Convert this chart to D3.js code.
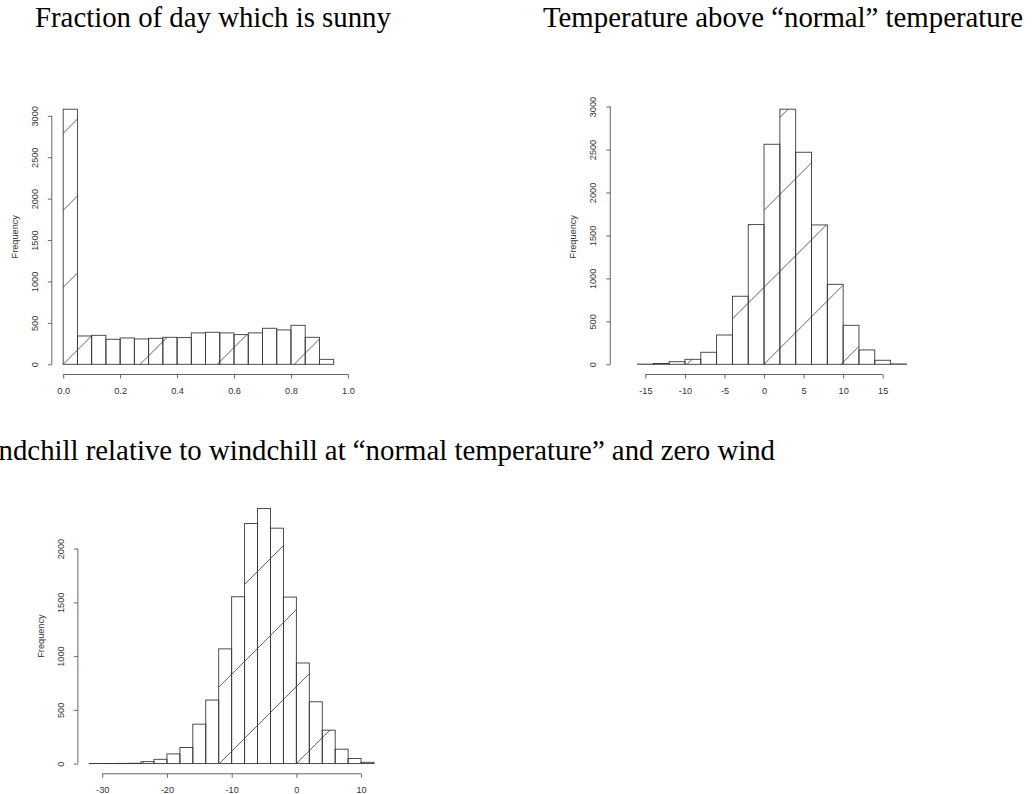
<!DOCTYPE html>
<html>
<head>
<meta charset="utf-8">
<script src="https://cdn.jsdelivr.net/npm/d3@7/dist/d3.min.js"></script>
<style>
  body { margin: 0; background: #fff; }
  svg text { fill: #333; }
</style>
</head>
<body>
<div id="chart"></div>
<script>
// bin edges and counts
const sunBreaks = [0, 0.05, 0.1, 0.15, 0.2, 0.25, 0.3, 0.35, 0.4, 0.45, 0.5,
  0.55, 0.6, 0.65, 0.7, 0.75, 0.8, 0.85, 0.9, 0.95, 1.0];
const sunCounts = [3080, 342, 350, 302, 318, 306, 314, 326, 322, 379, 387,
  379, 358, 379, 435, 415, 471, 326, 60, 0];
const sunXTicks = [0, 0.2, 0.4, 0.6, 0.8, 1.0];
const sunYTicks = [0, 500, 1000, 1500, 2000, 2500, 3000];

const tempBreaks = [-18, -16, -14, -12, -10, -8, -6, -4, -2, 0, 2, 4, 6, 8,
  10, 12, 14, 16, 18];
const tempCounts = [0, 2, 10, 30, 58, 140, 341, 792, 1626, 2561, 2969, 2468,
  1622, 931, 454, 167, 47, 4];
const tempXTicks = [-15, -10, -5, 0, 5, 10, 15];
const tempYTicks = [0, 500, 1000, 1500, 2000, 2500, 3000];

const chillBreaks = [-32, -30, -28, -26, -24, -22, -20, -18, -16, -14, -12,
  -10, -8, -6, -4, -2, 0, 2, 4, 6, 8, 10, 12];
const chillCounts = [1, 1, 2, 3, 18, 40, 90, 150, 367, 591, 1067, 1552, 2233,
  2373, 2190, 1549, 936, 575, 311, 134, 47, 12];
const chillXTicks = [-30, -20, -10, 0, 10];
const chillYTicks = [0, 500, 1000, 1500, 2000];

const titles = [
  "Fraction of day which is sunny",
  "Temperature above \u201cnormal\u201d temperature",
  "Windchill relative to windchill at \u201cnormal temperature\u201d and zero wind"
];

const W = 1033, H = 794;
const plotW = 307.5, plotH = 275.5;
const hatchGap = 77; // horizontal distance between hatch lines, px
const ink = "#3a3a3a";

const svg = d3.select("#chart").append("svg")
  .attr("width", W)
  .attr("height", H);

// titles (figure captions above each panel)
function title(txt, x, y, anchor) {
  svg.append("text")
    .attr("x", x).attr("y", y)
    .attr("text-anchor", anchor)
    .attr("font-family", "Liberation Serif")
    .attr("font-size", 28.8)
    .style("fill", "#000")
    .text(txt);
}
title(titles[0], 35, 27, "start");
title(titles[1], 543, 27, "start");
title(titles[2], 775, 460, "end");

function extend(lo, hi) {
  // R's default 4% padding on each side
  const d = (hi - lo) * 0.04;
  return [lo - d, hi + d];
}

function histogram(left, top, breaks, counts, xTicks, yTicks, fmt) {
  const g = svg.append("g");
  const x = d3.scaleLinear()
    .domain(extend(breaks[0], breaks[breaks.length - 1]))
    .range([left, left + plotW]);
  const y = d3.scaleLinear()
    .domain(extend(0, d3.max(counts)))
    .range([top + plotH, top]);

  const bins = counts.map((c, i) => ({ lo: breaks[i], hi: breaks[i + 1], n: c }));

  // hatch lines at 45 degrees, anchored on y = 0 at multiples of the shift
  const shift = hatchGap / (x(1) - x(0));
  const y0 = y(0);
  const segs = [];
  bins.forEach((b) => {
    const x1 = x(b.lo), x2 = x(b.hi), yt = y(b.n), yb = y0;
    const kStart = Math.ceil(x.invert(x1 + yt - y0) / shift);
    const kEnd = Math.floor(x.invert(x2 + yb - y0) / shift);
    for (let k = kStart; k <= kEnd; k++) {
      const c = x(k * shift) + y0;
      const ya = Math.max(yt, c - x2);
      const yz = Math.min(yb, c - x1);
      if (yz - ya > 0.2) segs.push({ x1: c - ya, y1: ya, x2: c - yz, y2: yz });
    }
  });

  g.selectAll(".hatch")
    .data(segs)
    .enter()
    .append("line")
    .attr("class", "hatch")
    .attr("x1", (d) => d.x1)
    .attr("y1", (d) => d.y1)
    .attr("x2", (d) => d.x2)
    .attr("y2", (d) => d.y2)
    .attr("stroke", ink)
    .attr("stroke-width", 0.8);

  g.selectAll(".bar")
    .data(bins)
    .enter()
    .append("rect")
    .attr("class", "bar")
    .attr("x", (d) => x(d.lo))
    .attr("y", (d) => y(d.n))
    .attr("width", (d) => x(d.hi) - x(d.lo))
    .attr("height", (d) => y0 - y(d.n))
    .attr("fill", "none")
    .attr("stroke", ink)
    .attr("stroke-width", 0.9);

  // x axis: line only between first and last tick, like R
  const axisY = top + plotH;
  const xa = g.append("g")
    .attr("transform", `translate(0,${axisY})`)
    .call(d3.axisBottom(x).tickValues(xTicks).tickSize(4).tickFormat(fmt));
  xa.select(".domain").remove();
  xa.selectAll(".tick line").attr("stroke", "#666");
  xa.selectAll(".tick text")
    .attr("y", 0).attr("dy", 0)
    .attr("transform", "translate(0,19.2)")
    .attr("font-family", "Liberation Sans")
    .attr("font-size", 9.2);
  xa.append("line")
    .attr("x1", x(xTicks[0])).attr("x2", x(xTicks[xTicks.length - 1]))
    .attr("stroke", "#666");

  const ya = g.append("g")
    .attr("transform", `translate(${left},0)`)
    .call(d3.axisLeft(y).tickValues(yTicks).tickSize(4).tickFormat((d) => String(d)));
  ya.select(".domain").remove();
  ya.selectAll(".tick line").attr("stroke", "#666");
  ya.selectAll(".tick text")
    .attr("x", 0).attr("dy", 0)
    .attr("text-anchor", "middle")
    .attr("dominant-baseline", "central")
    .attr("transform", "translate(-17,0) rotate(-90)")
    .attr("font-family", "Liberation Sans")
    .attr("font-size", 9.2);
  ya.append("line")
    .attr("y1", y(yTicks[0])).attr("y2", y(yTicks[yTicks.length - 1]))
    .attr("stroke", "#666");

  g.append("text")
    .attr("transform", `translate(${left - 37},${top + plotH / 2}) rotate(-90)`)
    .attr("text-anchor", "middle")
    .attr("dominant-baseline", "central")
    .attr("font-family", "Liberation Sans")
    .attr("font-size", 9.2)
    .text("Frequency");
}

histogram(51.8, 99, sunBreaks, sunCounts, sunXTicks, sunYTicks, d3.format(".1f"));
histogram(610.3, 99, tempBreaks, tempCounts, tempXTicks, tempYTicks, (d) => String(d));
histogram(77.9, 498.3, chillBreaks, chillCounts, chillXTicks, chillYTicks, (d) => String(d));
</script>
</body>
</html>
